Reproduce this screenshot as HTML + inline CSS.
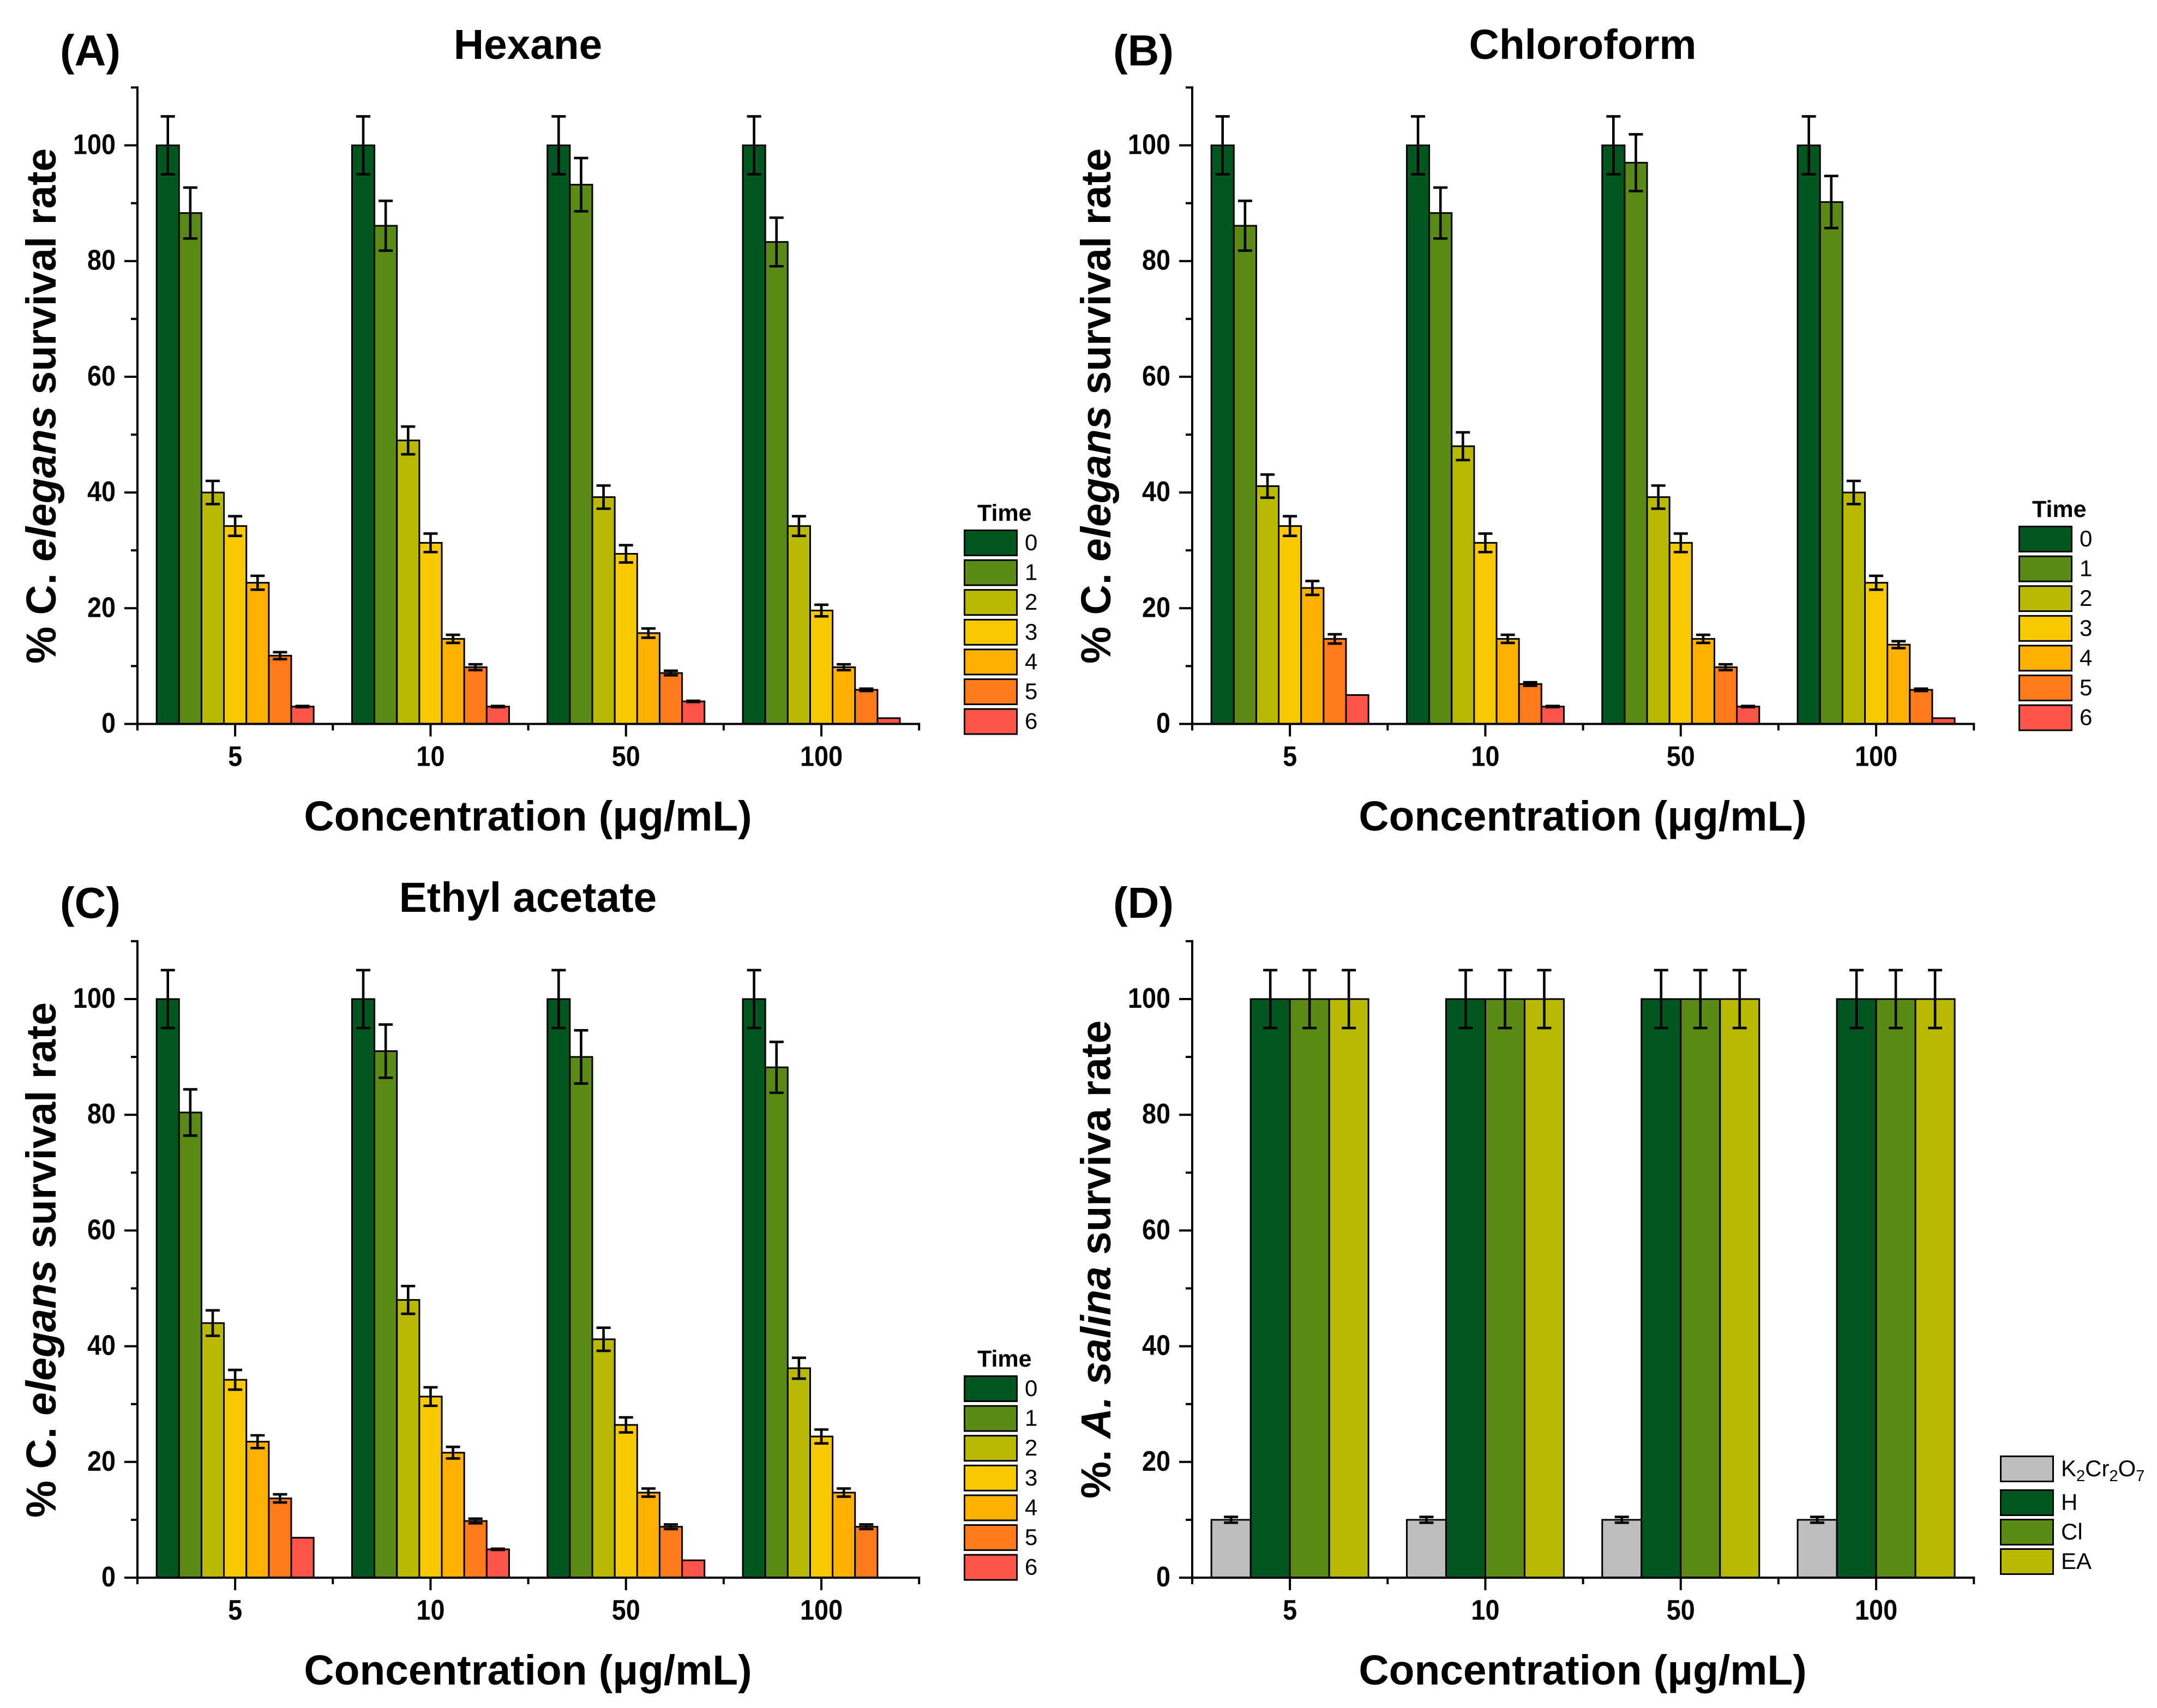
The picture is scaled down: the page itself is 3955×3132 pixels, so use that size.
<!DOCTYPE html>
<html lang="en">
<head>
<meta charset="utf-8">
<title>Survival rate charts</title>
<style>
html,body{margin:0;padding:0;background:#fff;width:3955px;height:3132px;overflow:hidden}
svg{display:block}
text{font-family:"Liberation Sans",Arial,sans-serif;fill:#000}
.b{font-weight:bold}
.t{font-size:76.6px;font-weight:bold}
.p{font-size:80px;font-weight:bold}
</style>
</head>
<body>
<svg id="fig" xmlns="http://www.w3.org/2000/svg" width="3955" height="3132" viewBox="0 0 3955 3132">
<rect width="3955" height="3132" fill="#fff"/>

<text class="p" x="110" y="120">(A)</text>
<text class="p" x="2041" y="120">(B)</text>
<text class="p" x="110" y="1683">(C)</text>
<text class="p" x="2041" y="1683">(D)</text>

<text class="t" x="968" y="108" text-anchor="middle">Hexane</text>
<text class="t" x="2902" y="108" text-anchor="middle">Chloroform</text>
<text class="t" x="968" y="1672" text-anchor="middle">Ethyl acetate</text>

<text class="t" transform="translate(102,1217) rotate(-90)">% C. <tspan font-style="italic">elegans</tspan> survival rate</text>
<text class="t" transform="translate(2036,1217) rotate(-90)">% C. <tspan font-style="italic">elegans</tspan> survival rate</text>
<text class="t" transform="translate(102,2783) rotate(-90)">% C. <tspan font-style="italic">elegans</tspan> survival rate</text>
<text class="t" transform="translate(2036,2748) rotate(-90)">%. <tspan font-style="italic">A. salina</tspan> surviva rate</text>

<text class="t" x="968" y="1523" text-anchor="middle">Concentration (μg/mL)</text>
<text class="t" x="2902" y="1523" text-anchor="middle">Concentration (μg/mL)</text>
<text class="t" x="968" y="3089" text-anchor="middle">Concentration (μg/mL)</text>
<text class="t" x="2902" y="3089" text-anchor="middle">Concentration (μg/mL)</text>

<g id="plots"></g>
</svg>

<script>
const concentrations = ['5', '10', '50', '100'];
const yTickValues = [0, 20, 40, 60, 80, 100];
const yMinorValues = [10, 30, 50, 70, 90, 110];
const timeLabels = ['0', '1', '2', '3', '4', '5', '6'];
const timeColors = ['#00561f', '#5b8a16', '#b8b900', '#f9c900', '#ffb000', '#ff7a18', '#ff5548'];

const hexaneValues = [
  [100, 88.3, 40.0, 34.2, 24.4, 11.8, 3.0],
  [100, 86.1, 49.0, 31.3, 14.7, 9.8, 3.0],
  [100, 93.2, 39.2, 29.4, 15.7, 8.8, 3.9],
  [100, 83.3, 34.2, 19.6, 9.8, 5.9, 1.0]
];
const hexaneErrors = [
  [5, 4.4, 2.0, 1.7, 1.2, 0.6, 0.1],
  [5, 4.3, 2.4, 1.6, 0.7, 0.5, 0.1],
  [5, 4.6, 2.0, 1.5, 0.8, 0.4, 0.1],
  [5, 4.2, 1.7, 1.0, 0.5, 0.2, 0]
];
const chloroformValues = [
  [100, 86.1, 41.1, 34.2, 23.5, 14.7, 5.0],
  [100, 88.3, 48.0, 31.3, 14.7, 6.9, 3.0],
  [100, 97.0, 39.2, 31.3, 14.7, 9.8, 3.0],
  [100, 90.2, 40.0, 24.4, 13.7, 5.9, 1.0]
];
const chloroformErrors = [
  [5, 4.3, 2.0, 1.7, 1.2, 0.8, 0],
  [5, 4.4, 2.4, 1.6, 0.7, 0.3, 0.1],
  [5, 4.9, 2.0, 1.6, 0.7, 0.5, 0.1],
  [5, 4.5, 2.0, 1.2, 0.6, 0.2, 0]
];
const ethylAcetateValues = [
  [100, 80.4, 44.0, 34.2, 23.5, 13.7, 6.9],
  [100, 91.0, 48.0, 31.3, 21.6, 9.8, 4.9],
  [100, 90.0, 41.2, 26.4, 14.7, 8.8, 3.0],
  [100, 88.2, 36.2, 24.4, 14.7, 8.8, 0]
];
const ethylAcetateErrors = [
  [5, 4.0, 2.2, 1.7, 1.1, 0.7, 0],
  [5, 4.6, 2.4, 1.6, 1.0, 0.4, 0.1],
  [5, 4.6, 2.0, 1.3, 0.7, 0.4, 0],
  [5, 4.4, 1.8, 1.2, 0.7, 0.4, 0]
];

const salinaLabels = ['K2Cr2O7', 'H', 'Cl', 'EA'];
const salinaColors = ['#bebebe', '#00561f', '#5b8a16', '#b8b900'];
const salinaValues = [
  [10, 100, 100, 100],
  [10, 100, 100, 100],
  [10, 100, 100, 100],
  [10, 100, 100, 100]
];
const salinaErrors = [
  [0.5, 5, 5, 5],
  [0.5, 5, 5, 5],
  [0.5, 5, 5, 5],
  [0.5, 5, 5, 5]
];

const SVGNS = 'http://www.w3.org/2000/svg';
const plots = document.getElementById('plots');

function make(parent, tag, attrs, text) {
  const el = document.createElementNS(SVGNS, tag);
  for (const k in attrs) el.setAttribute(k, attrs[k]);
  if (text !== undefined) el.textContent = text;
  parent.appendChild(el);
  return el;
}

const CAT_W = 358.3;
const GROUP_W = 288;
const PX_PER_UNIT = 10.61;

function xCenter(p, c) { return p.x0 + CAT_W * (c + 0.5); }
function xBar(p, c, s, n) { return xCenter(p, c) - GROUP_W / 2 + s * (GROUP_W / n); }
function yPos(p, v) { return p.y0 - v * PX_PER_UNIT; }

function drawAxes(p, g) {
  const right = p.x0 + CAT_W * concentrations.length;

  const yAxis = make(g, 'line', {x1: p.x0, x2: p.x0, y1: p.y0 + 2, y2: yPos(p, 110) - 2, stroke: '#000', 'stroke-width': 4});
  
  

  const xAxis = make(g, 'line', {x1: p.x0 - 24, x2: right + 2, y1: p.y0, y2: p.y0, stroke: '#000', 'stroke-width': 4});
  
  

  yTickValues.forEach(function (v) {
    const tick = make(g, 'line', {x1: p.x0 - 24, x2: p.x0, y1: yPos(p, v), y2: yPos(p, v), stroke: '#000', 'stroke-width': 4});
    
    
    const label = make(g, 'text', {class: 'b', 'font-size': 52, 'text-anchor': 'end', transform: 'translate(' + (p.x0 - 40) + ',' + (yPos(p, v) + 16) + ') scale(0.9,1)'}, String(v));
    
    
  });
  yMinorValues.forEach(function (v) {
    const tick = make(g, 'line', {x1: p.x0 - 12, x2: p.x0, y1: yPos(p, v), y2: yPos(p, v), stroke: '#000', 'stroke-width': 4});
    
    
  });

  concentrations.forEach(function (name, c) {
    const cx = xCenter(p, c);
    const tick = make(g, 'line', {x1: cx, x2: cx, y1: p.y0, y2: p.y0 + 23, stroke: '#000', 'stroke-width': 4});
    
    
    const label = make(g, 'text', {class: 'b', 'font-size': 52, 'text-anchor': 'middle', transform: 'translate(' + cx + ',' + (p.y0 + 77) + ') scale(0.9,1)'}, name);
    
    
  });
  for (let c = 0; c <= concentrations.length; c++) {
    const mx = p.x0 + CAT_W * c;
    const tick = make(g, 'line', {x1: mx, x2: mx, y1: p.y0, y2: p.y0 + 12, stroke: '#000', 'stroke-width': 4});
    
    
  }
}

function drawBars(p, g) {
  p.values.forEach(function (row, c) {
    const n = row.length;
    const w = GROUP_W / n;
    row.forEach(function (v, s) {
      if (v <= 0) return;
      const bar = make(g, 'rect', {x: xBar(p, c, s, n), y: yPos(p, v), width: w, height: v * PX_PER_UNIT, fill: p.colors[s], stroke: '#000', 'stroke-width': 3});
      
      
    });
    row.forEach(function (v, s) {
      const e = p.errors[c][s];
      if (v <= 0 || e <= 0) return;
      const ex = xBar(p, c, s, n) + w / 2;
      const whisker = make(g, 'path', {
        d: 'M' + ex + ' ' + yPos(p, v + e) + 'V' + yPos(p, v - e) +
           'M' + (ex - 13) + ' ' + yPos(p, v + e) + 'H' + (ex + 13) +
           'M' + (ex - 13) + ' ' + yPos(p, v - e) + 'H' + (ex + 13),
        fill: 'none', stroke: '#000', 'stroke-width': 4.6});
      
      
    });
  });
}

function drawLegend(p, g) {
  if (p.legendTitle) {
    const title = make(g, 'text', {class: 'b', 'font-size': 43, x: p.lx + 25, y: p.ly - 16}, p.legendTitle);
    
    
  }
  p.series.forEach(function (name, i) {
    const top = p.ly + i * p.lstep + (i > 0 ? p.lfirstGap : 0);
    const swatch = make(g, 'rect', {x: p.lx + 1.5, y: top + 1.5, width: 96, height: 46, fill: p.colors[i], stroke: '#000', 'stroke-width': 3});
    
    
    const label = make(g, 'text', {'font-size': 42, x: p.lx + 112, y: top + 38});
    
    
    if (name === 'K2Cr2O7') {
      make(label, 'tspan', {}, 'K');
      make(label, 'tspan', {dy: 9, 'font-size': 29}, '2');
      make(label, 'tspan', {dy: -9}, 'Cr');
      make(label, 'tspan', {dy: 9, 'font-size': 29}, '2');
      make(label, 'tspan', {dy: -9}, 'O');
      make(label, 'tspan', {dy: 9, 'font-size': 29}, '7');
    } else {
      label.textContent = name;
    }
  });
}

function drawPanel(p) {
  const g = make(plots, 'g', {});
  
  
  drawBars(p, g);
  drawAxes(p, g);
  drawLegend(p, g);
}

drawPanel({name: 'panel-a-hexane', x0: 252, y0: 1327.5, values: hexaneValues, errors: hexaneErrors, colors: timeColors, series: timeLabels, legendTitle: 'Time', lx: 1767, ly: 971, lstep: 54.6, lfirstGap: 0});
drawPanel({name: 'panel-b-chloroform', x0: 2186, y0: 1327.5, values: chloroformValues, errors: chloroformErrors, colors: timeColors, series: timeLabels, legendTitle: 'Time', lx: 3701, ly: 964, lstep: 54.6, lfirstGap: 0});
drawPanel({name: 'panel-c-ethyl-acetate', x0: 252, y0: 2893, values: ethylAcetateValues, errors: ethylAcetateErrors, colors: timeColors, series: timeLabels, legendTitle: 'Time', lx: 1767, ly: 2522, lstep: 54.6, lfirstGap: 0});
drawPanel({name: 'panel-d-salina', x0: 2186, y0: 2893, values: salinaValues, errors: salinaErrors, colors: salinaColors, series: salinaLabels, legendTitle: '', lx: 3667, ly: 2669, lstep: 54, lfirstGap: 8});
</script>
</body>
</html>
